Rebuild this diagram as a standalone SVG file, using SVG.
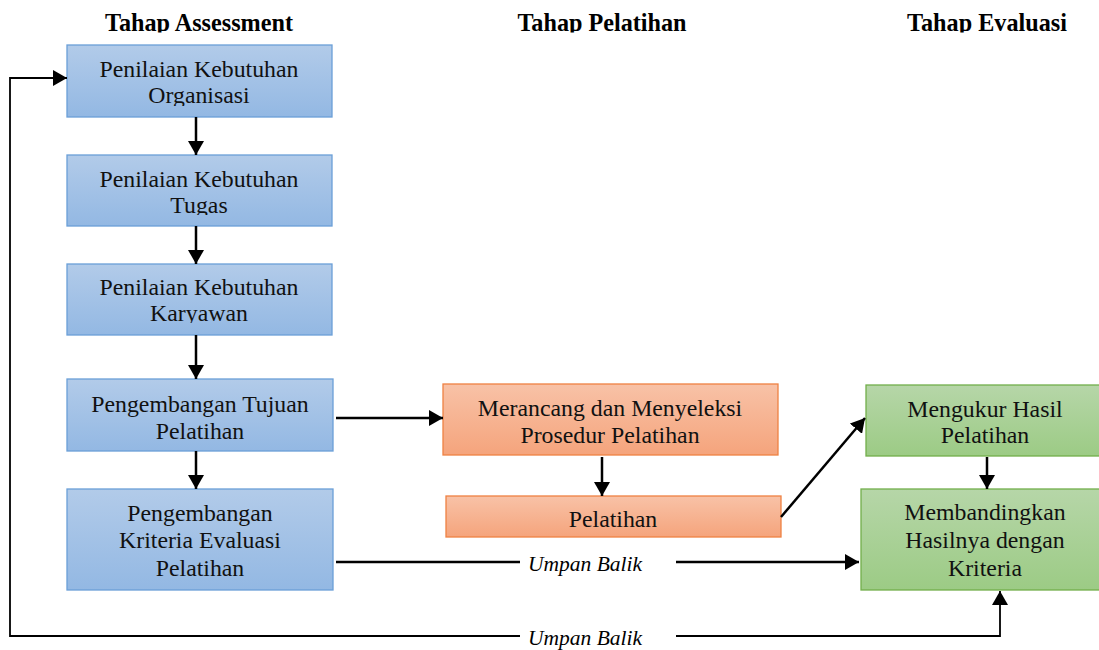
<svg xmlns="http://www.w3.org/2000/svg" width="1099" height="650" viewBox="0 0 1099 650">
  <defs>
    <linearGradient id="gBlue" x1="0" y1="0" x2="0" y2="1">
      <stop offset="0" stop-color="#b2cbe9"/>
      <stop offset="1" stop-color="#93b8e3"/>
    </linearGradient>
    <linearGradient id="gOrange" x1="0" y1="0" x2="0" y2="1">
      <stop offset="0" stop-color="#f8c2a7"/>
      <stop offset="1" stop-color="#f5a47c"/>
    </linearGradient>
    <linearGradient id="gGreen" x1="0" y1="0" x2="0" y2="1">
      <stop offset="0" stop-color="#b6d6a8"/>
      <stop offset="1" stop-color="#9ccb85"/>
    </linearGradient>
    <marker id="arrow" viewBox="0 0 14 16" refX="14" refY="8" markerWidth="14" markerHeight="16" markerUnits="userSpaceOnUse" orient="auto">
      <path d="M0,0 L14,8 L0,16 z" fill="#000"/>
    </marker>
    <!-- clip regions: heading row and lower lines of the first three boxes -->
    <clipPath id="clipHead"><rect x="0" y="0" width="1099" height="32.5"/></clipPath>
    <clipPath id="clipA1"><rect x="60" y="40" width="280" height="66"/></clipPath>
    <clipPath id="clipA2"><rect x="60" y="150" width="280" height="65"/></clipPath>
    <clipPath id="clipA3"><rect x="60" y="259" width="280" height="64"/></clipPath>
  </defs>
  <style>
    .head { font-family: "Liberation Serif", "Times New Roman", serif; font-weight: bold; font-size: 24.2px; fill: #000; text-anchor: middle; }
    .lbl { font-family: "Liberation Serif", "Times New Roman", serif; font-size: 23.8px; fill: #111; text-anchor: middle; }
    .fb { font-family: "Liberation Serif", "Times New Roman", serif; font-style: italic; font-size: 21.5px; fill: #000; text-anchor: middle; }
    .blue { fill: url(#gBlue); stroke: #6a9fd8; stroke-width: 1.3; }
    .orange { fill: url(#gOrange); stroke: #ee8142; stroke-width: 1.3; }
    .green { fill: url(#gGreen); stroke: #72ae4b; stroke-width: 1.3; }
    .conn { fill: none; stroke: #000; stroke-width: 2.5; }
    .thin { fill: none; stroke: #000; stroke-width: 1.8; }
  </style>

  <!-- stage headings -->
  <g id="headings" clip-path="url(#clipHead)">
    <text class="head" x="199" y="30.5">Tahap Assessment</text>
    <text class="head" x="602" y="30.5">Tahap Pelatihan</text>
    <text class="head" x="987" y="30.5">Tahap Evaluasi</text>
  </g>

  <!-- assessment stage -->
  <g id="node-organisasi">
    <rect class="blue" x="67" y="45" width="265" height="72"/>
    <g clip-path="url(#clipA1)">
      <text class="lbl" x="199" y="77">Penilaian Kebutuhan</text>
      <text class="lbl" x="199" y="103">Organisasi</text>
    </g>
  </g>
  <g id="node-tugas">
    <rect class="blue" x="67" y="155" width="265" height="71"/>
    <g clip-path="url(#clipA2)">
      <text class="lbl" x="199" y="187">Penilaian Kebutuhan</text>
      <text class="lbl" x="199" y="213">Tugas</text>
    </g>
  </g>
  <g id="node-karyawan">
    <rect class="blue" x="67" y="264" width="265" height="71"/>
    <g clip-path="url(#clipA3)">
      <text class="lbl" x="199" y="295">Penilaian Kebutuhan</text>
      <text class="lbl" x="199" y="321">Karyawan</text>
    </g>
  </g>
  <g id="node-tujuan">
    <rect class="blue" x="67" y="379" width="266" height="72"/>
    <text class="lbl" x="200" y="412">Pengembangan Tujuan</text>
    <text class="lbl" x="200" y="439">Pelatihan</text>
  </g>
  <g id="node-kriteria">
    <rect class="blue" x="67" y="489" width="266" height="101"/>
    <text class="lbl" x="200" y="521">Pengembangan</text>
    <text class="lbl" x="200" y="548">Kriteria Evaluasi</text>
    <text class="lbl" x="200" y="576">Pelatihan</text>
  </g>

  <!-- training stage -->
  <g id="node-prosedur">
    <rect class="orange" x="443" y="384" width="335" height="71"/>
    <text class="lbl" x="610" y="416">Merancang dan Menyeleksi</text>
    <text class="lbl" x="610" y="443">Prosedur Pelatihan</text>
  </g>
  <g id="node-pelatihan">
    <rect class="orange" x="446" y="496" width="335" height="41"/>
    <text class="lbl" x="613" y="527">Pelatihan</text>
  </g>

  <!-- evaluation stage -->
  <g id="node-mengukur">
    <rect class="green" x="866" y="385" width="240" height="71"/>
    <text class="lbl" x="985" y="417">Mengukur Hasil</text>
    <text class="lbl" x="985" y="443">Pelatihan</text>
  </g>
  <g id="node-membandingkan">
    <rect class="green" x="861" y="489" width="248" height="101"/>
    <text class="lbl" x="985" y="520">Membandingkan</text>
    <text class="lbl" x="985" y="548">Hasilnya dengan</text>
    <text class="lbl" x="985" y="576">Kriteria</text>
  </g>

  <!-- connectors -->
  <g id="connectors">
    <line class="conn" x1="196" y1="117" x2="196" y2="155" marker-end="url(#arrow)"/>
    <line class="conn" x1="196" y1="226" x2="196" y2="264" marker-end="url(#arrow)"/>
    <line class="conn" x1="196" y1="335" x2="196" y2="379" marker-end="url(#arrow)"/>
    <line class="conn" x1="196" y1="451" x2="196" y2="489" marker-end="url(#arrow)"/>
    <line class="conn" x1="336" y1="418" x2="443" y2="418" marker-end="url(#arrow)"/>
    <line class="conn" x1="602" y1="457" x2="602" y2="496" marker-end="url(#arrow)"/>
    <line class="conn" x1="781" y1="517" x2="865" y2="418" marker-end="url(#arrow)"/>
    <line class="conn" x1="987" y1="457" x2="987" y2="489" marker-end="url(#arrow)"/>

    <!-- feedback from criteria to comparison -->
    <line class="conn" x1="336" y1="562" x2="520" y2="562"/>
    <line class="conn" x1="676" y1="562" x2="859" y2="562" marker-end="url(#arrow)"/>
    <text class="fb" x="585" y="571">Umpan Balik</text>

    <!-- outer feedback loop -->
    <path class="thin" d="M520,636 H10 V78 H67" marker-end="url(#arrow)"/>
    <path class="thin" d="M676,636 H1000 V591" marker-end="url(#arrow)"/>
    <text class="fb" x="585" y="645">Umpan Balik</text>
  </g>
</svg>
